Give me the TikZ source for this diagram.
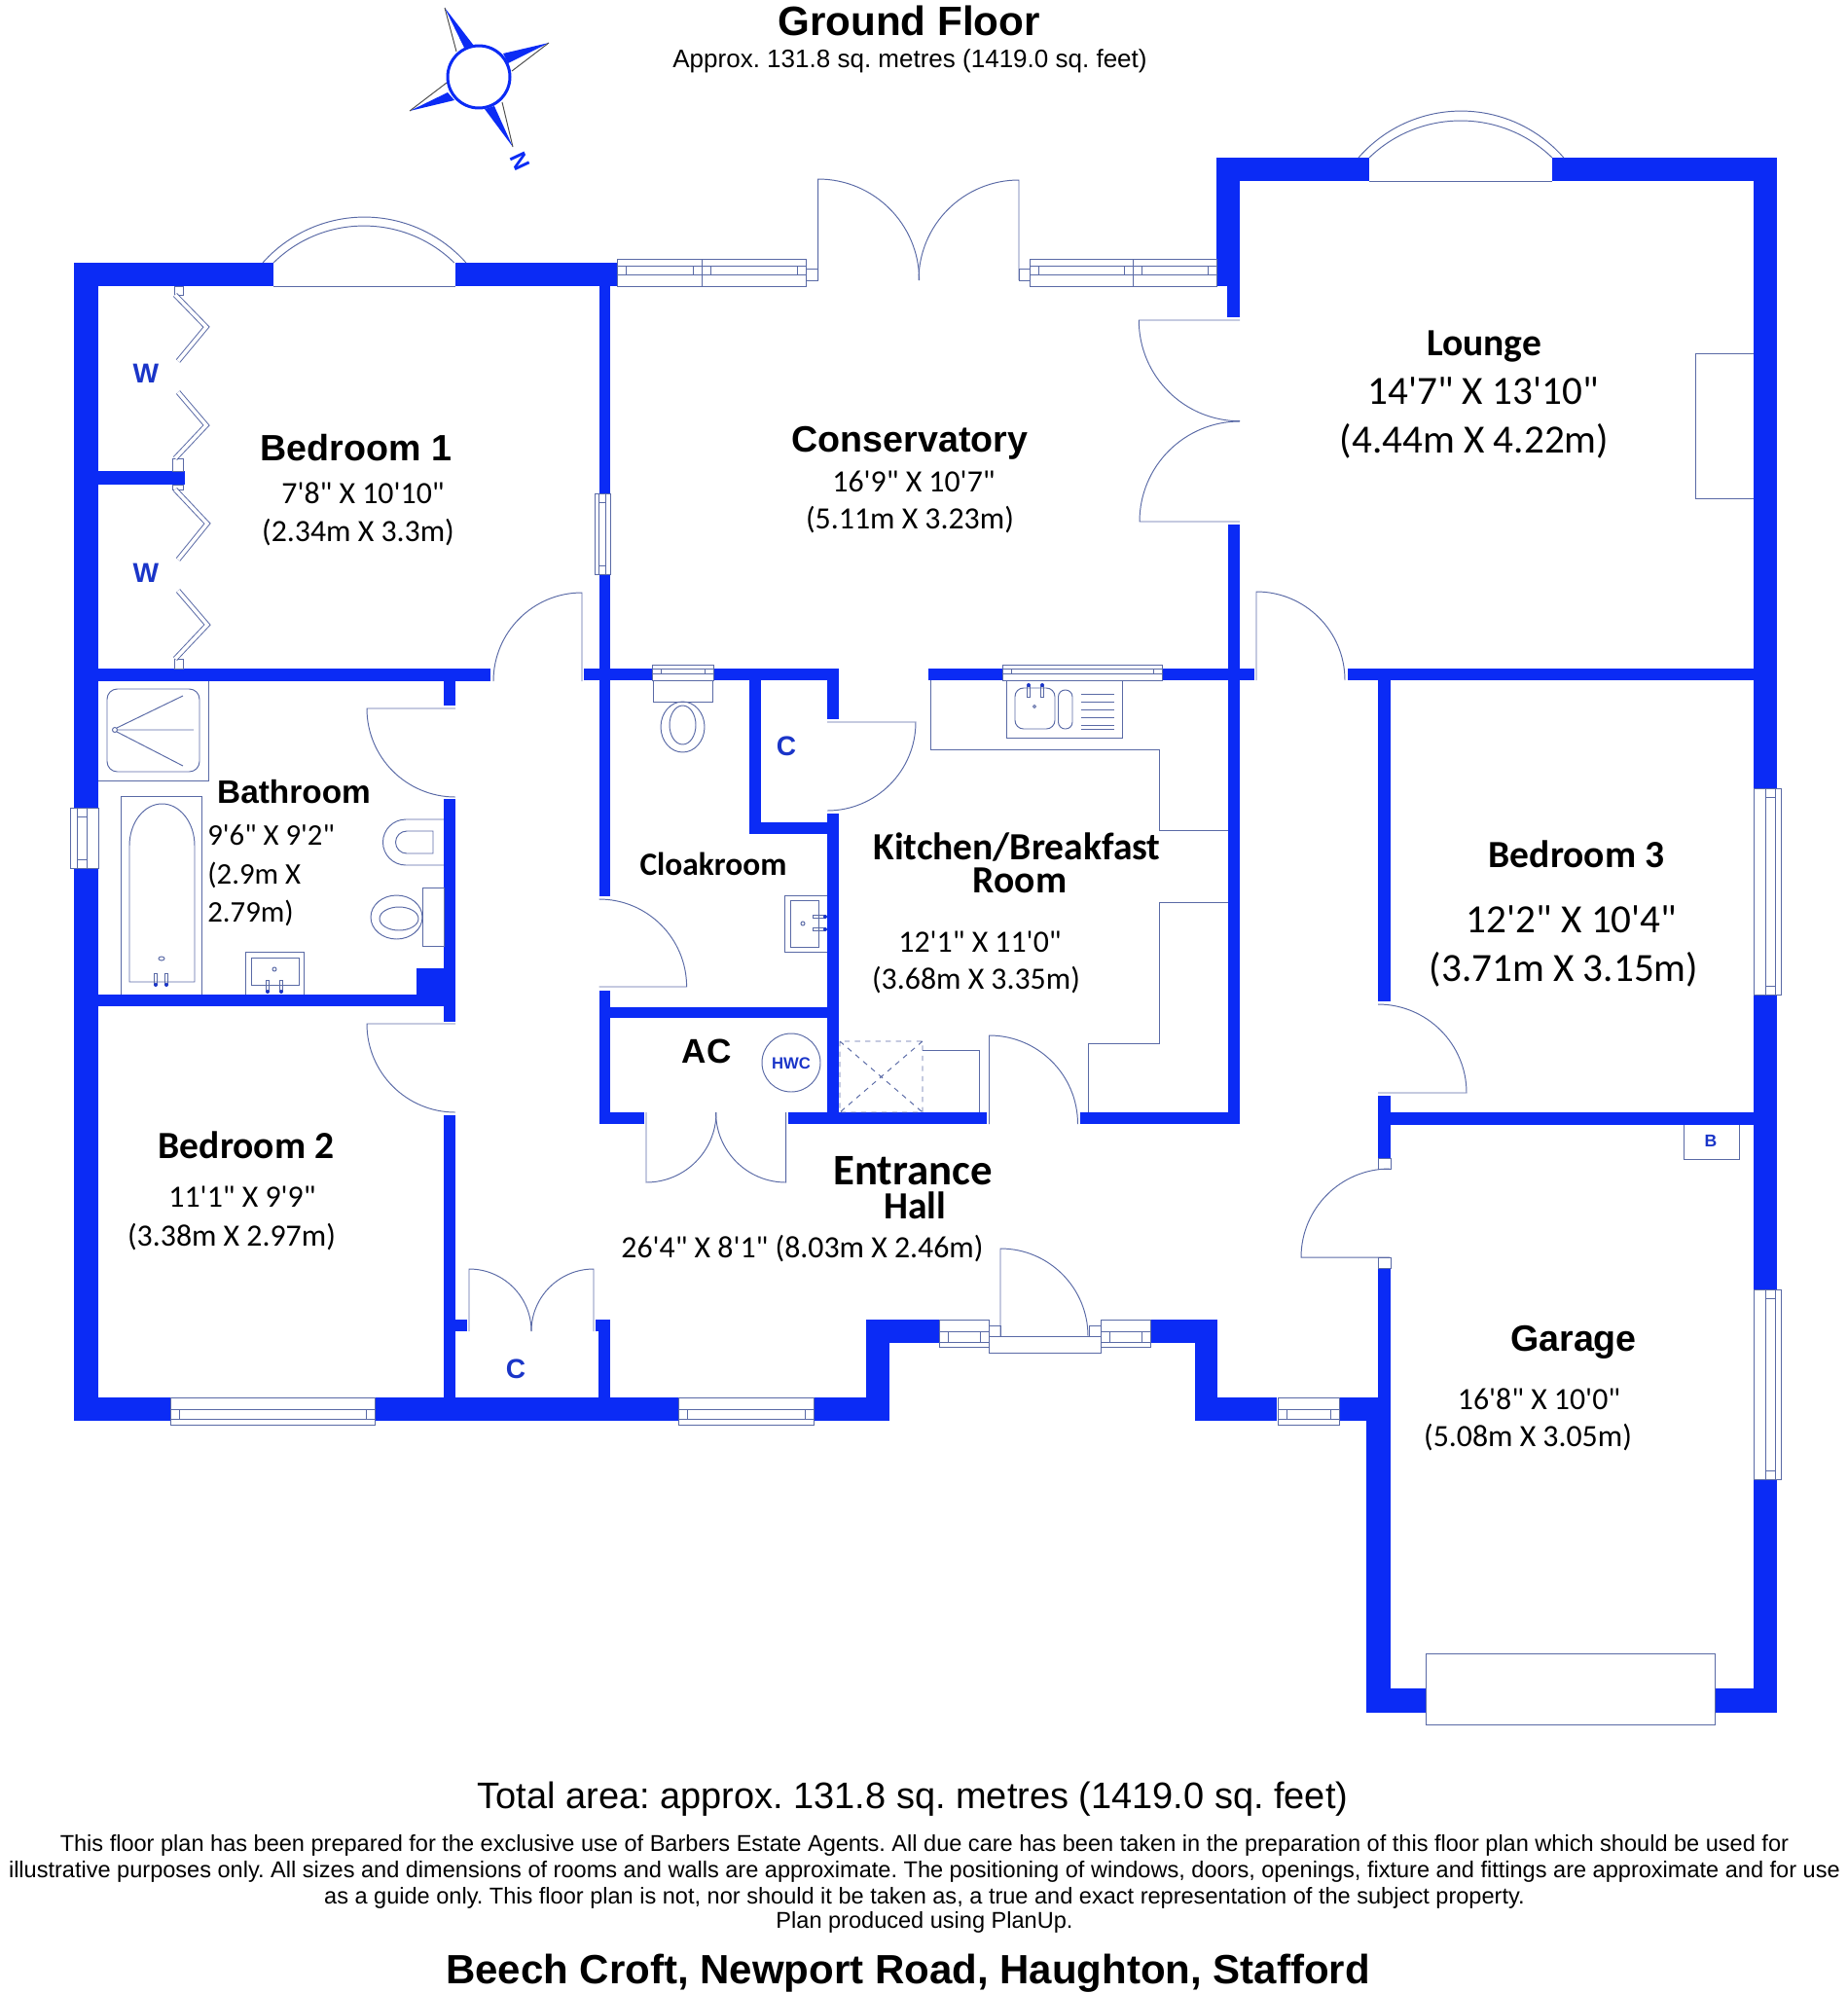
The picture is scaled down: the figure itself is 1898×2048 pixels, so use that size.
\documentclass[tikz,border=0pt]{standalone}
\usepackage{fontspec}
\setmainfont{Liberation Sans}
\newfontfamily\calibri{Carlito}
\definecolor{planblue}{HTML}{0B2BF5}
\definecolor{linkblue}{HTML}{1A35C8}
\definecolor{fixline}{HTML}{5A6AA6}
\def\scale{0.569}
\tikzstyle{wall}=[fill=planblue,draw=none]
\tikzstyle{fixture}=[draw=fixline,line width=0.55pt]
\tikzstyle{winbox}=[draw=fixline,line width=0.55pt,fill=white]
\tikzstyle{txt}=[inner sep=0pt,align=center]
\tikzstyle{bigname}=[txt,font=\bfseries\fontsize{21.4}{25}\selectfont]
\tikzstyle{calname}=[txt,font=\calibri\bfseries\fontsize{22.5}{27}\selectfont]
\tikzstyle{calsize}=[txt,font=\calibri\fontsize{18.1}{21}\selectfont]
\tikzstyle{calhuge}=[txt,font=\calibri\fontsize{23.4}{27}\selectfont]
\tikzstyle{bluemark}=[txt,text=linkblue,font=\bfseries\fontsize{16}{19}\selectfont]
\tikzstyle{notice}=[txt,font=\fontsize{13.4}{15.3}\selectfont]
\newcommand{\doorleaf}[4]{\draw[fixture] (#1) -- ++(#2:#4) arc[start angle=#2,end angle=#3,radius=#4];}
\newcommand{\hwin}[6]{\draw[winbox] (#1,#3) rectangle (#2,#4); \draw[fixture] ({#1+9},#5) rectangle ({#2-9},#6); \draw[fixture] (#1,#5) -- (#2,#5) (#1,#6) -- (#2,#6);}
\newcommand{\vwin}[6]{\draw[winbox] (#1,#3) rectangle (#2,#4); \draw[fixture] (#5,{#3+9}) rectangle (#6,{#4-9}); \draw[fixture] (#5,#3) -- (#5,#4) (#6,#3) -- (#6,#4);}
\begin{document}
\frenchspacing
\begin{tikzpicture}[x=1pt,y=1pt,scale=\scale,yscale=-1]
\useasboundingbox (0,0) rectangle (1898,2048);
\foreach \a/\b in {{(76,270)/(281,294)}, {(468,270)/(634,294)}, {(76,270)/(101,830)}, {(76,892)/(101,1460)},
    {(615.6,294)/(627,507)}, {(615.6,590)/(627,921)}, {(615.6,1018)/(627,1155)}, {(101,484)/(190,498)},
    {(101,687)/(504,700)}, {(600,687)/(670,699)}, {(733,687)/(862,699)}, {(850,699)/(862,739)}, {(850,836)/(862,1155)},
    {(770,699)/(782,857)}, {(770,845)/(850,857)}, {(627,1035)/(850,1046)},
    {(615.6,1143)/(661.6,1155)}, {(810,1143)/(1014,1155)}, {(1110,1143)/(1274,1155)},
    {(1250,162)/(1274,294)}, {(1261.4,294)/(1274.4,326)}, {(1262,539)/(1274,1155)},
    {(1250,162)/(1407,186)}, {(1595,162)/(1826,186)}, {(1802,162)/(1826,810)}, {(1802,1022)/(1826,1325)}, {(1802,1520)/(1826,1760)},
    {(954,687)/(1030,699)}, {(1194,687)/(1289,699)}, {(1385,687)/(1802,699)},
    {(1416,699)/(1429,1029)}, {(1416,1126)/(1429,1190)}, {(1416,1303)/(1429,1460)}, {(1404,1460)/(1429,1760)}, {(1429,1143)/(1802,1156)},
    {(1404,1735)/(1465,1760)}, {(1761,1735)/(1826,1760)},
    {(456,700)/(468,725)}, {(456,821)/(468,1050)}, {(456,1146)/(468,1436)}, {(101,1022)/(456,1034)}, {(428,995)/(468,1022)},
    {(76,1436)/(175,1460)}, {(385,1436)/(697,1460)}, {(836,1436)/(914,1460)}, {(890,1356)/(914,1460)}, {(890,1356)/(965,1380)},
    {(1182,1356)/(1251,1380)}, {(1228,1356)/(1251,1460)}, {(1228,1436)/(1312,1460)}, {(1376,1436)/(1429,1460)},
    {(468,1356)/(480,1368)}, {(612,1356)/(627,1368)}, {(615,1368)/(627,1436)}} {
    \fill[wall] \a rectangle \b;
}
\hwin{634}{721}{266}{294}{273}{282}
\hwin{721}{828}{266}{294}{273}{282}
\hwin{1058.5}{1164}{266}{294}{273}{282}
\hwin{1164}{1250}{266}{294}{273}{282}
\hwin{175}{385}{1436}{1464}{1448}{1458}
\hwin{697}{836}{1436}{1464}{1448}{1458}
\hwin{1313}{1376}{1436}{1464}{1448}{1458}
\hwin{965}{1016}{1356}{1384}{1368}{1379}
\hwin{1131}{1182}{1356}{1384}{1368}{1379}
\hwin{670}{733}{683}{699}{687}{692}
\hwin{1030}{1194}{683}{699}{687}{692}
\vwin{611}{627}{507}{590}{615}{622}
\vwin{72}{101}{830}{892}{79}{89}
\vwin{1802}{1830}{810}{1022}{1814}{1824}
\vwin{1802}{1830}{1325}{1520}{1814}{1824}
\foreach \a/\b in {{(1016,1373)/(1131,1390)}, {(1016,1362)/(1028,1373)}, {(1119,1362)/(1131,1373)}, {(828,276)/(840.6,288)}, {(1047,276)/(1058.5,288)},
    {(1416,1190)/(1429,1201)}, {(1416,1292)/(1429,1303)}, {(179,294)/(188,303)}, {(177,471)/(188,484)}, {(177,498)/(188,503)}, {(179,677)/(188,687)},
    {(1465,1699)/(1762,1772)}} {
    \draw[winbox] \a rectangle \b;
}
\foreach \a/\b/\c in {{(180,303)/(212,336)/(183,371)}, {(183,403)/(212,437)/(180,471)}, {(180,503)/(213,538)/(183,575)}, {(183,607)/(213,642)/(180,677)}} {
    \draw[fixture,double=white,double distance=2pt] \a -- \b -- \c;
}
\draw[fixture] (270,270) arc[start angle=221.6,end angle=318.4,radius=139.7];
\draw[fixture] (281,270) arc[start angle=225.6,end angle=314.4,radius=132.8];
\draw[fixture] (281,294) -- (468,294);
\draw[fixture] (1396,162) arc[start angle=221.1,end angle=318.9,radius=139.9];
\draw[fixture] (1407,162) arc[start angle=226,end angle=314,radius=135.3];
\draw[fixture] (1407,186) -- (1595,186);
\doorleaf{598,700}{270}{180}{91}
\doorleaf{468,728}{180}{90}{91}
\doorleaf{468,1052}{180}{90}{91}
\doorleaf{615.6,1014}{0}{-90}{90}
\doorleaf{850,742}{0}{90}{91}
\doorleaf{1016.5,1155}{270}{360}{91}
\doorleaf{1291,699}{270}{360}{91}
\doorleaf{1416,1123}{0}{-90}{91}
\doorleaf{1428,1292}{180}{270}{91}
\doorleaf{1028,1373}{270}{360}{90}
\doorleaf{482,1368}{270}{360}{64}
\doorleaf{610,1368}{270}{180}{64}
\doorleaf{664,1143}{90}{0}{72}
\doorleaf{807.6,1143}{90}{180}{72}
\doorleaf{840.6,288}{270}{360}{104}
\doorleaf{1047,288}{270}{180}{103}
\doorleaf{1274,329}{180}{90}{103.7}
\doorleaf{1274,536}{180}{270}{103}
% bathroom
\draw[fixture] (101,802) -- (214,802) -- (214,700);
\draw[fixture,rounded corners=6pt] (110,708) rectangle (205,793);
\draw[fixture] (118,750) circle (2.5);
\draw[fixture] (188,715) -- (120,748) (199,750) -- (121,750) (188,787) -- (120,752);
\draw[fixture] (124,1022) -- (124,818) -- (207,818) -- (207,1022);
\draw[fixture] (133,1009) -- (133,869) arc[start angle=180,end angle=360,x radius=33.5,y radius=43] -- (200,1009) -- cycle;
\draw[fixture] (166,985) ellipse (3 and 2);
\draw[fixture] (252.5,1022) -- (252.5,978) -- (312.6,978) -- (312.6,1022);
\draw[fixture] (258,984) rectangle (307,1012);
\draw[fixture] (282,996) circle (2);
\foreach \x/\y in {160/1000, 171/1000, 275/1007, 289/1007} {
    \draw[fixture] (\x-1.5,\y) rectangle (\x+1.5,\y+11);
    \fill[linkblue] (\x,\y+12) circle (2);
}
\draw[fixture] (456,842) -- (417,842) arc[start angle=270,end angle=90,radius=23.5] -- (456,889);
\draw[fixture] (445,854) -- (418,854) arc[start angle=270,end angle=90,radius=11.5] -- (445,877) -- cycle;
\draw[fixture] (434,912) rectangle (456,972);
\draw[fixture] (407.5,942.5) ellipse (26.5 and 22.5);
\draw[fixture] (410,944) ellipse (20 and 12);
% cloakroom and kitchen
\draw[fixture] (671,699) rectangle (732,721);
\draw[fixture] (701.5,747) ellipse (22.5 and 26);
\draw[fixture] (701.5,745) ellipse (13.5 and 20);
\draw[fixture] (850,920) -- (806,920) -- (806,978.6) -- (850,978.6);
\draw[fixture] (812,925) rectangle (841,973);
\draw[fixture] (825,949) circle (2);
\foreach \y in {942, 955} {
    \draw[fixture] (835,\y-1.5) rectangle (847,\y+1.5);
    \fill[linkblue] (848,\y) circle (2);
}
\draw[fixture] (813,1092) circle (30);
\draw[fixture] (956,699) -- (956,770) -- (1191.5,770) -- (1191.5,853.6) -- (1262,853.6);
\draw[fixture] (1262,927.5) -- (1191.5,927.5) -- (1191.5,1072) -- (1118,1072) -- (1118,1143);
\draw[winbox] (1034,699) rectangle (1153.6,758);
\draw[fixture,rounded corners=5pt] (1043,707) rectangle (1084,749);
\draw[fixture,rounded corners=4pt] (1087.5,709) rectangle (1102,749);
\foreach \y in {713, 721, 729, 737, 745, 749} {
    \draw[fixture] (1111,\y) -- (1145,\y);
}
\foreach \x in {1057, 1071} {
    \draw[fixture] (\x-1.5,705) rectangle (\x+1.5,716);
    \fill[linkblue] (\x,704) circle (2);
}
\draw[fixture] (1063,726) circle (1.5);
\draw[fixture,dashed] (863,1070) rectangle (948,1143) (863,1070) -- (948,1143) (948,1070) -- (863,1143);
\draw[fixture] (948,1079) -- (1006,1079) -- (1006,1143);
% lounge and garage
\draw[fixture] (1802,363) -- (1742.5,363) -- (1742.5,512) -- (1802,512);
\draw[fixture] (1730.6,1156) -- (1730.6,1191) -- (1787.6,1191) -- (1787.6,1156);
% compass
\fill[planblue] (457,8) -- (487,47) -- (477,49) -- cycle;
\fill[planblue] (564,44) -- (517,55) -- (522,65) -- cycle;
\fill[planblue] (421,114) -- (467,103) -- (460,95) -- cycle;
\fill[planblue] (527,151) -- (498,112) -- (508,109) -- cycle;
\draw[fixture,draw=black!70] (457,8) -- (469,53) (564,44) -- (526,73) (421,114) -- (459,85) (527,151) -- (516,105);
\draw[draw=planblue,line width=1.7pt,fill=white] (492,79) circle (32);
\node[txt,text=planblue,rotate=-65,font=\bfseries\fontsize{13.5}{16}\selectfont] (north) at (535,166) {N};
% labels
\foreach \pos/\name/\label in {{(366,460)/bedonename/Bedroom 1}, {(935,455)/conservname/Conservatory}, {(1617,1379)/garagename/Garage}} {
    \node[bigname] (\name) at \pos {\label};
}
\node[txt,font=\bfseries\fontsize{19}{23}\selectfont] (bathname) at (302,814) {Bathroom};
\node[txt,font=\bfseries\fontsize{20}{24}\selectfont] (acname) at (726,1080) {AC};
\foreach \pos/\name/\label in {{(1525,356)/loungename/Lounge}, {(253,1177)/bedtwoname/Bedroom 2}, {(1620,878)/bedthreename/Bedroom 3}} {
    \node[calname] (\name) at \pos {\label};
}
\node[calname] (kitchenname) at (1045,871) {Kitchen/Breakfast};
\node[calname] (roomname) at (1048,905) {Room};
\node[calname,font=\calibri\bfseries\fontsize{25.5}{30}\selectfont] (entrancename) at (938,1203) {Entrance};
\node[calname] (hallname) at (940,1239) {Hall};
\node[calname,font=\calibri\bfseries\fontsize{19}{23}\selectfont] (cloakname) at (733,888) {Cloakroom};
\foreach \pos/\name/\label in {{(373,507)/bedonea/7'8" X 10'10"}, {(368,547)/bedoneb/(2.34m X 3.3m)},
    {(939,495)/conserva/16'9" X 10'7"}, {(935,534)/conservb/(5.11m X 3.23m)},
    {(1007,968)/kitchena/12'1" X 11'0"}, {(1003,1007)/kitchenb/(3.68m X 3.35m)},
    {(249,1230)/bedtwoa/11'1" X 9'9"}, {(238,1271)/bedtwob/(3.38m X 2.97m)},
    {(1581.5,1438)/garagea/16'8" X 10'0"}, {(1570,1477)/garageb/(5.08m X 3.05m)},
    {(824.4,1283)/halla/26'4" X 8'1" (8.03m X 2.46m)}} {
    \node[calsize] (\name) at \pos {\label};
}
\foreach \pos/\name/\label in {{(213,858)/batha/9'6" X 9'2"}, {(213,899)/bathb/(2.9m X}, {(213,938)/bathc/2.79m)}} {
    \node[calsize,anchor=west,font=\calibri\fontsize{17.5}{21}\selectfont] (\name) at \pos {\label};
}
\foreach \pos/\name/\label in {{(1524,402)/loungea/14'7" X 13'10"}, {(1515,453)/loungeb/(4.44m X 4.22m)},
    {(1615,945)/bedthreea/12'2" X 10'4"}, {(1607,996)/bedthreeb/(3.71m X 3.15m)}} {
    \node[calhuge] (\name) at \pos {\label};
}
\foreach \pos/\name/\label in {{(150,384)/wardone/W}, {(150,589)/wardtwo/W}, {(808,767)/closetone/C}, {(530,1407)/closettwo/C}} {
    \node[bluemark] (\name) at \pos {\label};
}
\node[bluemark,font=\bfseries\fontsize{9.5}{11}\selectfont] (hwc) at (813,1093) {HWC};
\node[bluemark,font=\bfseries\fontsize{10}{12}\selectfont] (boiler) at (1758,1172) {B};
\node[txt,font=\bfseries\fontsize{24}{28}\selectfont] (title) at (934,21) {Ground Floor};
\node[txt,font=\fontsize{14.8}{18}\selectfont] (subtitle) at (935,63) {Approx. 131.8 sq. metres (1419.0 sq. feet)};
\node[txt,font=\fontsize{21.6}{25}\selectfont] (total) at (938,1849) {Total area: approx. 131.8 sq. metres (1419.0 sq. feet)};
\node[notice] (noticeone) at (950,1896) {This floor plan has been prepared for the exclusive use of Barbers Estate Agents. All due care has been taken in the preparation of this floor plan which should be used for};
\node[notice] (noticetwo) at (950,1923) {illustrative purposes only. All sizes and dimensions of rooms and walls are approximate. The positioning of windows, doors, openings, fixture and fittings are approximate and for use};
\node[notice] (noticethree) at (950,1950) {as a guide only. This floor plan is not, nor should it be taken as, a true and exact representation of the subject property.};
\node[notice] (noticefour) at (950,1975) {Plan produced using PlanUp.};
\node[txt,font=\bfseries\fontsize{23.9}{28}\selectfont] (address) at (933,2028) {Beech Croft, Newport Road, Haughton, Stafford};
\end{tikzpicture}
\end{document}
